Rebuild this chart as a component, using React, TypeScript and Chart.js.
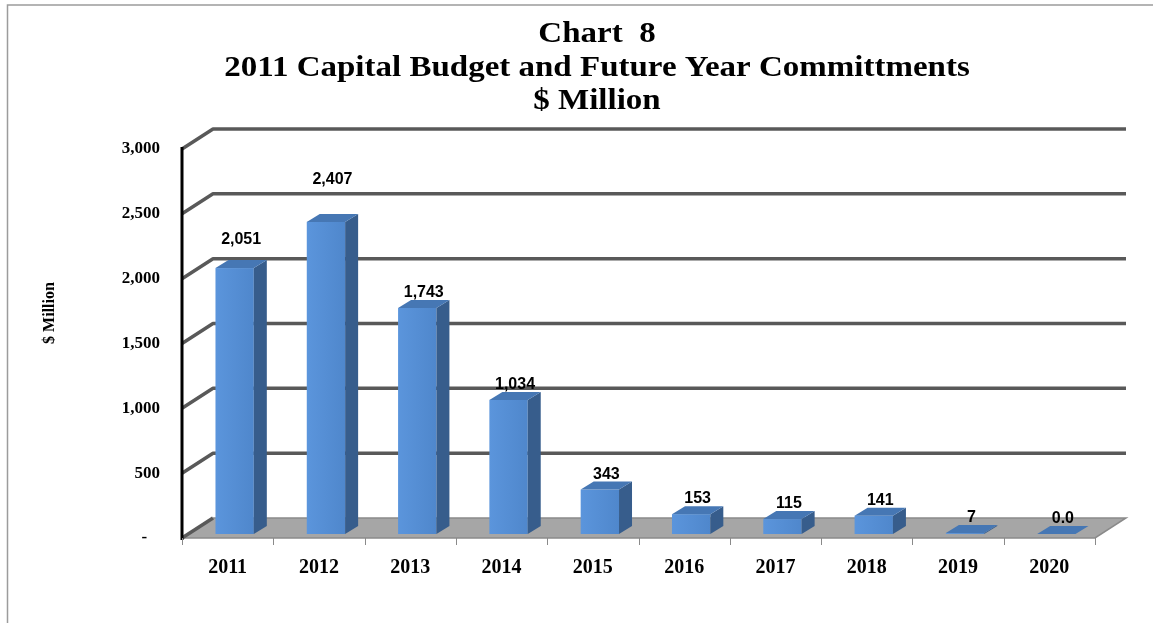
import React, { useEffect, useRef } from "react";
import { Chart, registerables } from "chart.js";

Chart.register(...registerables);

// ---------- data ----------
const years = ["2011", "2012", "2013", "2014", "2015", "2016", "2017", "2018", "2019", "2020"];
const commitments = [2051, 2407, 1743, 1034, 343, 153, 115, 141, 7, 0];
const yMin = 0;
const yMax = 3000;
const yStep = 500;
const titleLines = ["Chart  8", "2011 Capital Budget and Future Year Committments", "$ Million"];
const yAxisTitle = "$ Million";

// ---------- styling ----------
const SERIF = "'Liberation Serif', 'Times New Roman', serif";
const SANS = "'Liberation Sans', Arial, sans-serif";
const DEPTH_X = 31; // full 3D depth of floor/walls
const DEPTH_Y = -20;
const BAR_OFF_X = 7; // bar front plane offset
const BAR_OFF_Y = -4;
const BAR_DX = 13; // bar depth
const BAR_DY = -8;
const LABEL_LIFT = [13, 27, 0, 0, 0, 0, 0, 0, 0, 0];

const fmtValue = (v: number) => (v === 0 ? "0.0" : v.toLocaleString("en-US"));

const threeDPlugin = {
  id: "threeD",
  beforeDraw(chart: any) {
    const { ctx, chartArea: a, scales } = chart;
    const ys = scales.y;
    ctx.save();
    ctx.fillStyle = "#ffffff";
    ctx.fillRect(0, 0, chart.width, chart.height);

    // outer frame (top + left)
    ctx.strokeStyle = "#9c9c9c";
    ctx.lineWidth = 1.5;
    ctx.beginPath();
    ctx.moveTo(7.5, chart.height);
    ctx.lineTo(7.5, 5);
    ctx.lineTo(chart.width, 5);
    ctx.stroke();

    // titles
    ctx.fillStyle = "#000";
    ctx.font = `bold 30px ${SERIF}`;
    ctx.textAlign = "center";
    ctx.textBaseline = "alphabetic";
    const baselines = [42, 76, 109];
    titleLines.forEach((t, i) => {
      ctx.save();
      ctx.translate(597, baselines[i]);
      ctx.scale(1.1, 1);
      ctx.fillText(t, 0, 0);
      ctx.restore();
    });

    // y axis title
    ctx.save();
    ctx.translate(50, 313);
    ctx.rotate(-Math.PI / 2);
    ctx.font = `bold 16px ${SERIF}`;
    ctx.textAlign = "center";
    ctx.textBaseline = "middle";
    ctx.fillText(yAxisTitle, 0, 0);
    ctx.restore();

    // floor
    ctx.fillStyle = "#a6a6a6";
    ctx.beginPath();
    ctx.moveTo(a.left, a.bottom);
    ctx.lineTo(a.right, a.bottom);
    ctx.lineTo(a.right + DEPTH_X, a.bottom + DEPTH_Y);
    ctx.lineTo(a.left + DEPTH_X, a.bottom + DEPTH_Y);
    ctx.closePath();
    ctx.fill();
    ctx.strokeStyle = "#8a8a8a";
    ctx.lineWidth = 1.5;
    ctx.beginPath();
    ctx.moveTo(a.left + DEPTH_X, a.bottom + DEPTH_Y);
    ctx.lineTo(a.right + DEPTH_X, a.bottom + DEPTH_Y);
    ctx.lineTo(a.right, a.bottom);
    ctx.lineTo(a.left, a.bottom);
    ctx.stroke();

    // gridlines: left side wall diagonal + back wall horizontal
    ctx.strokeStyle = "#595959";
    ctx.lineWidth = 3.5;
    ctx.lineJoin = "round";
    ys.ticks.forEach((t: any) => {
      if (t.value <= yMin) return;
      const py = ys.getPixelForValue(t.value);
      ctx.beginPath();
      ctx.moveTo(a.left, py);
      ctx.lineTo(a.left + DEPTH_X, py + DEPTH_Y);
      ctx.lineTo(a.right + DEPTH_X, py + DEPTH_Y);
      ctx.stroke();
    });
    // base diagonal on the side
    ctx.beginPath();
    ctx.moveTo(a.left, a.bottom);
    ctx.lineTo(a.left + DEPTH_X, a.bottom + DEPTH_Y);
    ctx.stroke();
    ctx.restore();
  },
  afterDatasetsDraw(chart: any) {
    const { ctx, chartArea: a, scales } = chart;
    const meta = chart.getDatasetMeta(0);
    ctx.save();
    meta.data.forEach((el: any, i: number) => {
      const { x, y, base, width } = el.getProps(["x", "y", "base", "width"], true);
      const x0 = x - width / 2 + BAR_OFF_X;
      const x1 = x + width / 2 + BAR_OFF_X;
      const yt = Math.min(y, base) + BAR_OFF_Y;
      const yb = base + BAR_OFF_Y;
      // front
      if (yb - yt > 0.1) {
        const g = ctx.createLinearGradient(x0, 0, x1, 0);
        g.addColorStop(0, "#5b95dc");
        g.addColorStop(1, "#4f87cc");
        ctx.fillStyle = g;
        ctx.fillRect(x0, yt, x1 - x0, yb - yt);
        // side
        ctx.fillStyle = "#375d8c";
        ctx.beginPath();
        ctx.moveTo(x1, yt);
        ctx.lineTo(x1 + BAR_DX, yt + BAR_DY);
        ctx.lineTo(x1 + BAR_DX, yb + BAR_DY);
        ctx.lineTo(x1, yb);
        ctx.closePath();
        ctx.fill();
      }
      // top
      ctx.fillStyle = "#4677b4";
      ctx.beginPath();
      ctx.moveTo(x0, yt);
      ctx.lineTo(x1, yt);
      ctx.lineTo(x1 + BAR_DX, yt + BAR_DY);
      ctx.lineTo(x0 + BAR_DX, yt + BAR_DY);
      ctx.closePath();
      ctx.fill();

      // data label
      ctx.fillStyle = "#000";
      ctx.font = `bold 16px ${SANS}`;
      ctx.textAlign = "center";
      ctx.textBaseline = "alphabetic";
      const lx = (x0 + x1) / 2 + BAR_DX / 2;
      const ly = yt + BAR_DY - 3 - LABEL_LIFT[i];
      ctx.fillText(fmtValue(commitments[i]), lx, ly);
    });

    // front y axis line
    const ys = scales.y;
    ctx.strokeStyle = "#000";
    ctx.lineWidth = 3;
    ctx.beginPath();
    ctx.moveTo(a.left, ys.getPixelForValue(yMax) - 2);
    ctx.lineTo(a.left, a.bottom + 2);
    ctx.stroke();

    // x tick marks at category boundaries
    ctx.strokeStyle = "#8a8a8a";
    ctx.lineWidth = 1;
    const n = years.length;
    for (let k = 0; k <= n; k++) {
      const px = a.left + ((a.right - a.left) * k) / n;
      ctx.beginPath();
      ctx.moveTo(Math.round(px) + 0.5, a.bottom);
      ctx.lineTo(Math.round(px) + 0.5, a.bottom + 7);
      ctx.stroke();
    }
    ctx.restore();
  },
};

export default function App() {
  const ref = useRef<HTMLCanvasElement | null>(null);
  useEffect(() => {
    if (!ref.current) return;
    const chart = new Chart(ref.current, {
      type: "bar",
      data: {
        labels: years,
        datasets: [
          {
            data: commitments,
            backgroundColor: "rgba(0,0,0,0)",
            borderWidth: 0,
            barPercentage: 0.42,
            categoryPercentage: 1,
          },
        ],
      },
      options: {
        responsive: true,
        maintainAspectRatio: false,
        animation: false,
        layout: { padding: { top: 149, right: 58, bottom: 35, left: 0 } },
        plugins: {
          legend: { display: false },
          title: { display: false },
          tooltip: { enabled: false },
        },
        scales: {
          x: {
            grid: { display: false, drawTicks: false },
            border: { display: false },
            ticks: {
              color: "#000",
              font: { family: SERIF, size: 20, weight: "bold" },
              padding: 18,
              maxRotation: 0,
              autoSkip: false,
            },
            afterFit: (s: any) => {
              s.height = 50;
            },
          },
          y: {
            min: yMin,
            max: yMax,
            grid: { display: false, drawTicks: false },
            border: { display: false },
            ticks: {
              stepSize: yStep,
              color: "#000",
              padding: 22,
              font: { family: SERIF, size: 17, weight: "bold" },
              callback: (v: any) => (Number(v) === 0 ? "-   " : Number(v).toLocaleString("en-US")),
            },
            afterFit: (s: any) => {
              s.width = 182;
            },
          },
        },
      },
      plugins: [threeDPlugin],
    });
    return () => chart.destroy();
  }, []);
  return (
    <div style={{ position: "fixed", left: 0, top: 0, width: 1153, height: 623, background: "#fff" }}>
      <canvas ref={ref} />
    </div>
  );
}
